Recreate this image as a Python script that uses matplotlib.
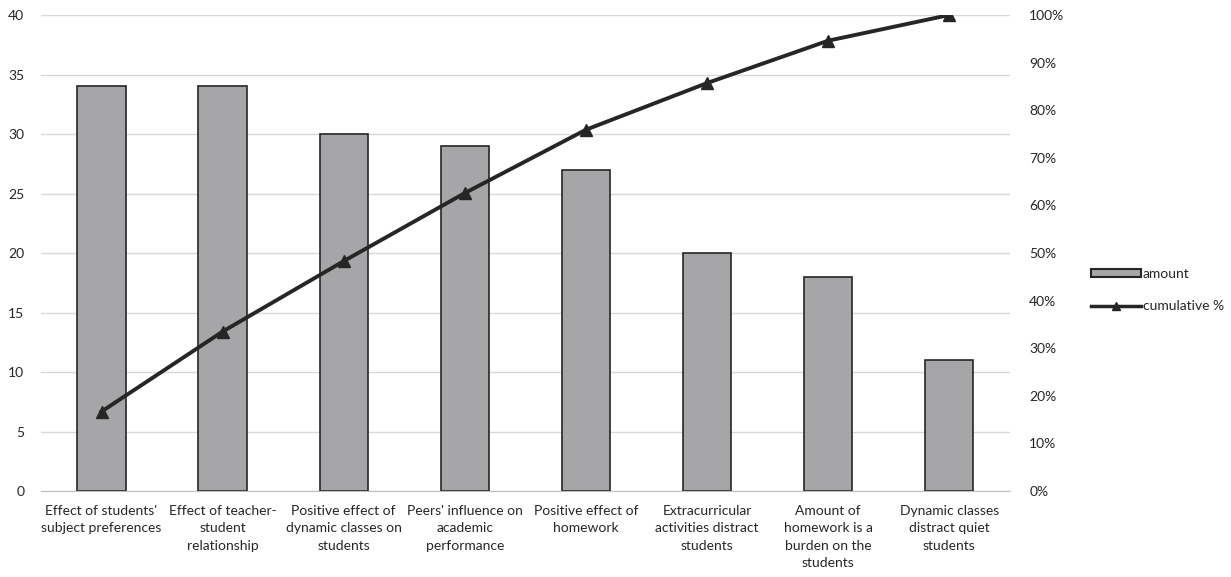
import matplotlib
matplotlib.use("Agg")
import matplotlib.pyplot as plt
from matplotlib.patches import Patch
from matplotlib.lines import Line2D
from matplotlib.ticker import FuncFormatter, MultipleLocator

categories = [
    "Effect of students'\nsubject preferences",
    "Effect of teacher-\nstudent\nrelationship",
    "Positive effect of\ndynamic classes on\nstudents",
    "Peers' influence on\nacademic\nperformance",
    "Positive effect of\nhomework",
    "Extracurricular\nactivities distract\nstudents",
    "Amount of\nhomework is a\nburden on the\nstudents",
    "Dynamic classes\ndistract quiet\nstudents",
]
amount = [34, 34, 30, 29, 27, 20, 18, 11]
cumulative_pct = [16.7, 33.5, 48.3, 62.6, 75.9, 85.7, 94.6, 100.0]

plt.rcParams["font.family"] = ["Lato", "DejaVu Sans"]
text_color = "#262626"
bar_color = "#A6A6A8"
edge_color = "#262626"
fs = 10

fig = plt.figure(figsize=(12.31, 5.77), dpi=100)
ax = fig.add_axes([0.0333, 0.149, 0.787, 0.825])
x = list(range(len(categories)))

ax.bar(x, amount, width=0.4, color=bar_color, edgecolor=edge_color,
       linewidth=1.2, zorder=2)
ax.set_ylim(0, 40)
ax.set_xlim(-0.5, len(categories) - 0.5)
ax.yaxis.set_major_locator(MultipleLocator(5))
ax.grid(axis="y", color="#D9D9D9", linewidth=1, zorder=0)
ax.set_axisbelow(True)
for s in ["top", "right", "left"]:
    ax.spines[s].set_visible(False)
ax.spines["bottom"].set_color("#BFBFBF")
ax.tick_params(axis="both", length=0, labelsize=fs, colors=text_color)
ax.tick_params(axis="y", pad=12)
ax.tick_params(axis="x", pad=10)
ax.set_xticks(x)
ax.set_xticklabels(categories, fontsize=fs, color=text_color, linespacing=1.55)

ax2 = ax.twinx()
ax2.plot(x, cumulative_pct, color="#262626", linewidth=2.8, marker="^",
         markersize=9, zorder=3)
ax2.set_ylim(0, 100)
ax2.yaxis.set_major_locator(MultipleLocator(10))
ax2.yaxis.set_major_formatter(FuncFormatter(lambda v, p: f"{v:.0f}%"))
ax2.tick_params(axis="y", length=0, labelsize=fs, colors=text_color, pad=14)
for s in ["top", "right", "left", "bottom"]:
    ax2.spines[s].set_visible(False)

handles = [
    Patch(facecolor=bar_color, edgecolor=edge_color, linewidth=1.5),
    Line2D([0], [0], color="#262626", linewidth=2.5, marker="^", markersize=6),
]
fig.legend(handles, ["amount", "cumulative %"], loc="center left",
           bbox_to_anchor=(0.876, 0.497), frameon=False, fontsize=fs,
           handlelength=3.6, handleheight=0.55, handletextpad=0.15,
           labelspacing=1.45, labelcolor=text_color)

fig.savefig("out.png", dpi=100)
